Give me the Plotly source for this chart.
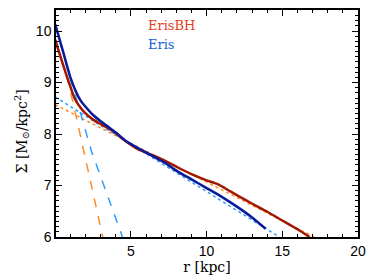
import plotly.graph_objects as go

# ErisBH (red) measured profile
r_bh = [0.0, 0.3, 0.7, 1.0, 1.3, 1.7, 2.0, 2.5, 2.9, 3.4, 3.8, 4.7, 5.5, 6.5, 7.2, 8.1, 9.0, 10.0, 10.7, 11.6, 12.5, 13.3, 14.0, 15.0, 16.0, 16.8]
s_bh = [9.83, 9.55, 9.18, 8.92, 8.68, 8.50, 8.40, 8.28, 8.21, 8.13, 8.06, 7.85, 7.70, 7.58, 7.49, 7.35, 7.22, 7.10, 7.03, 6.88, 6.73, 6.60, 6.49, 6.32, 6.15, 6.0]

# Eris (navy) measured profile
r_e = [0.0, 0.5, 1.0, 1.4, 1.7, 2.0, 2.5, 3.0, 3.5, 4.0, 4.7, 5.5, 6.5, 7.2, 8.1, 9.0, 10.0, 11.0, 12.0, 13.0, 13.9]
s_e = [10.13, 9.62, 9.10, 8.80, 8.64, 8.53, 8.37, 8.25, 8.14, 8.03, 7.86, 7.72, 7.56, 7.45, 7.27, 7.12, 6.95, 6.78, 6.59, 6.38, 6.16]

# Bulge fits (dashed)
r_bulge_bh = [0.0, 0.4, 0.85, 1.3, 1.83, 2.5, 3.14]
s_bulge_bh = [9.80, 9.45, 9.02, 8.45, 7.72, 6.85, 6.0]
r_bulge_e = [0.0, 0.5, 1.07, 1.6, 2.05, 2.4, 3.4, 4.44]
s_bulge_e = [10.11, 9.60, 9.03, 8.48, 8.00, 7.66, 6.85, 6.0]

# Disk fits (dotted)
r_disk_bh = [0.0, 17.1]
s_disk_bh = [8.57, 6.0]
r_disk_e = [0.0, 14.8]
s_disk_e = [8.72, 6.0]

ORANGE = "#ff8a2a"
LBLUE = "#2f9cff"
RED = "#a01800"
NAVY = "#0a1a9a"
SERIF = "DejaVu Serif"

fig = go.Figure()
fig.add_trace(go.Scatter(x=r_disk_bh, y=s_disk_bh, mode="lines", line=dict(color=ORANGE, width=1.5, dash="dot")))
fig.add_trace(go.Scatter(x=r_disk_e, y=s_disk_e, mode="lines", line=dict(color=LBLUE, width=1.5, dash="dot")))
fig.add_trace(go.Scatter(x=r_bulge_bh, y=s_bulge_bh, mode="lines", line=dict(color=ORANGE, width=1.5, dash="dash")))
fig.add_trace(go.Scatter(x=r_bulge_e, y=s_bulge_e, mode="lines", line=dict(color=LBLUE, width=1.5, dash="dash")))
fig.add_trace(go.Scatter(x=r_bh, y=s_bh, mode="lines", line=dict(color=RED, width=2.5, shape="spline", smoothing=0.6)))
fig.add_trace(go.Scatter(x=r_e, y=s_e, mode="lines", line=dict(color=NAVY, width=2.5, shape="spline", smoothing=0.6)))

fig.add_annotation(x=0.297, y=0.93, xref="paper", yref="paper", text="ErisBH", showarrow=False,
                   xanchor="left", yanchor="middle", font=dict(family=SERIF, size=13, color="#e2401a"))
fig.add_annotation(x=0.297, y=0.85, xref="paper", yref="paper", text="Eris", showarrow=False,
                   xanchor="left", yanchor="middle", font=dict(family=SERIF, size=13, color="#1a5fd6"))
fig.add_annotation(x=-0.114, y=0.463, xref="paper", yref="paper", text="Σ [M<sub>⊙</sub>/kpc<sup>2</sup>]",
                   showarrow=False, textangle=-90, xanchor="center", yanchor="middle",
                   font=dict(family=SERIF, size=14, color="black"))

axis_common = dict(showline=True, linecolor="black", linewidth=1.5, mirror="allticks", ticks="inside",
                   tickcolor="black", showgrid=False, zeroline=False,
                   tickfont=dict(family="Liberation Sans", size=14, color="black"))
fig.update_xaxes(range=[0.05, 20], tickvals=[5, 10, 15, 20], ticklen=6, tickwidth=1,
                 minor=dict(dtick=1, tick0=0, ticklen=3, ticks="inside", tickcolor="black"),
                 title=dict(text="r [kpc]", font=dict(family=SERIF, size=14, color="black"), standoff=4),
                 **axis_common)
fig.update_yaxes(range=[6, 10.41], tickvals=[6, 7, 8, 9, 10], ticklen=6, tickwidth=1,
                 minor=dict(dtick=0.1, tick0=0, ticklen=3, ticks="inside", tickcolor="black"),
                 **axis_common)
fig.update_layout(width=374, height=280, margin=dict(l=56, r=12, t=8, b=43),
                  plot_bgcolor="white", paper_bgcolor="white", showlegend=False)
fig.write_html("out.html", config={"displayModeBar": False},
               post_script="document.body.style.margin='0px';document.body.style.overflow='hidden';")
